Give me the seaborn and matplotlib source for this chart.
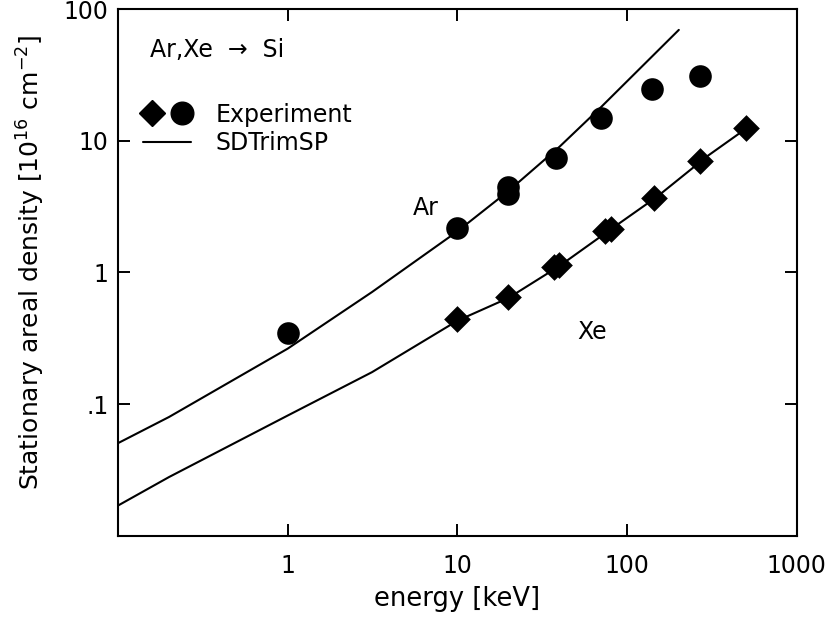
import numpy as np
import pandas as pd
import seaborn as sns
import matplotlib.pyplot as plt
from matplotlib.legend_handler import HandlerTuple
from matplotlib.lines import Line2D

# experiment, Ar on Si (circles)
ar_exp_energy = [1, 10, 20, 20, 38, 70, 140, 270]
ar_exp_density = [0.345, 2.17, 4.45, 3.92, 7.4, 14.9, 24.8, 31.2]

# experiment, Xe on Si (diamonds)
xe_exp_energy = [10, 20, 37, 40, 74, 80, 145, 270, 505]
xe_exp_density = [0.445, 0.65, 1.10, 1.13, 2.05, 2.12, 3.66, 7.0, 12.4]

# SDTrimSP simulation curves
ar_sim_energy = [0.1, 0.2, 1, 3.14, 10, 20, 40, 70, 202]
ar_sim_density = [0.0506, 0.080, 0.264, 0.71, 2.05, 4.15, 9.0, 17.9, 69.4]

xe_sim_energy = [0.1, 0.2, 1, 3.14, 10, 20, 40, 80, 150, 300, 505]
xe_sim_density = [0.0170, 0.028, 0.082, 0.175, 0.43, 0.64, 1.12, 2.12, 3.75, 7.7, 12.4]

x_ticks = [1, 10, 100, 1000]
x_ticklabels = ['1', '10', '100', '1000']
y_ticks = [0.1, 1, 10, 100]
y_ticklabels = ['.1', '1', '10', '100']

sns.set_style("ticks")
plt.rcParams['font.family'] = ['DejaVu Sans']
plt.rcParams['text.color'] = 'black'
plt.rcParams['axes.labelcolor'] = 'black'

fs = 17

fig = plt.figure(figsize=(8.31, 6.21), dpi=100)
ax = fig.add_axes([0.142, 0.137, 0.8167, 0.8485])

sns.lineplot(x=ar_sim_energy, y=ar_sim_density, ax=ax, color='black', lw=1.5, sort=False)
sns.lineplot(x=xe_sim_energy, y=xe_sim_density, ax=ax, color='black', lw=1.5, sort=False)
sns.scatterplot(x=ar_exp_energy, y=ar_exp_density, ax=ax, marker='o', s=265,
                color='black', edgecolor='black', linewidth=0, zorder=3)
sns.scatterplot(x=xe_exp_energy, y=xe_exp_density, ax=ax, marker='D', s=185,
                color='black', edgecolor='black', linewidth=0, zorder=3)

ax.set_xscale('log')
ax.set_yscale('log')
ax.set_xlim(0.1, 1000)
ax.set_ylim(0.01, 100)
ax.set_xticks(x_ticks)
ax.set_xticklabels(x_ticklabels)
ax.set_yticks(y_ticks)
ax.set_yticklabels(y_ticklabels)
ax.minorticks_off()
ax.tick_params(which='major', direction='in', length=8.5, width=1.4,
               top=True, right=True, labelsize=fs, pad=7, colors='black')
ax.tick_params(axis='x', pad=13)
for sp in ax.spines.values():
    sp.set_linewidth(1.5)
    sp.set_color('black')

ax.set_xlabel('energy [keV]', fontsize=18.5, labelpad=6)
ax.set_ylabel('Stationary areal density [10$^{16}$ cm$^{-2}$]', fontsize=18)
ax.yaxis.set_label_coords(-0.104, 0.52)

ax.text(0.047, 0.922, 'Ar,Xe  \u2192  Si', transform=ax.transAxes, fontsize=fs, va='center')
ax.text(5.45, 3.06, 'Ar', fontsize=fs, ha='left', va='center')
ax.text(50.9, 0.351, 'Xe', fontsize=fs, ha='left', va='center')

diamond = Line2D([], [], marker='D', color='black', ls='none', markersize=13.6)
circle = Line2D([], [], marker='o', color='black', ls='none', markersize=16.3)
line = Line2D([], [], color='black', lw=1.5)
ax.legend([(diamond, circle), line], ['Experiment', 'SDTrimSP'],
          handler_map={tuple: HandlerTuple(ndivide=None, pad=0.55)},
          loc='upper left', bbox_to_anchor=(0.0225, 0.84), frameon=False,
          fontsize=fs, handlelength=2.05, handletextpad=1.05, labelspacing=0.2,
          borderaxespad=0)

fig.savefig('out.png', dpi=100)
